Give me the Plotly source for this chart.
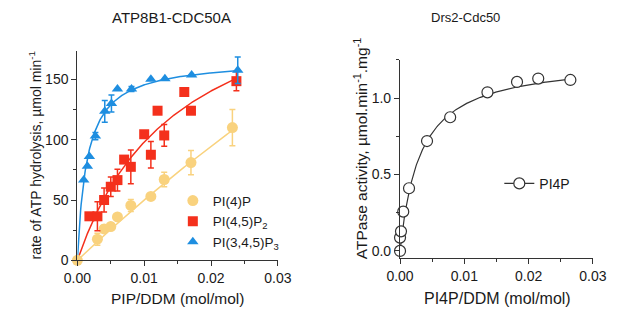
import numpy as np
import plotly.graph_objects as go

# ---------------- data ----------------
# Left panel: ATP8B1-CDC50A
pi4p_x = [0.0, 0.003, 0.004, 0.005, 0.006, 0.008, 0.011, 0.013, 0.017, 0.0232]
pi4p_y = [0.0, 17.5, 26, 28, 36, 45.5, 53, 67, 81, 110]
pi4p_err = [0, 5, 3, 3, 0, 5, 0, 6, 10, 15]

pi45p2_x = [0.0018, 0.003, 0.004, 0.005, 0.006, 0.007, 0.008, 0.010, 0.011, 0.012, 0.013, 0.016, 0.017, 0.0238]
pi45p2_y = [36.5, 36.5, 50, 61, 66.5, 83.5, 77.5, 104.5, 87.5, 124, 103.5, 139.5, 124, 148.5]
pi45p2_err = [0, 12, 10, 8, 9, 0, 14, 0, 11, 0, 9, 0, 0, 8]

pip3_x = [0.00095, 0.0015, 0.0018, 0.0027, 0.0041, 0.0051, 0.006, 0.0081, 0.011, 0.0131, 0.0171, 0.024]
pip3_y = [66.5, 78, 86, 103, 123.5, 130, 142, 142, 150, 150.5, 153.5, 157.5]
pip3_err = [0, 0, 0, 3, 9, 7, 0, 2, 0, 0, 0, 11]

# Michaelis-Menten fit parameters (Vmax, Km) estimated from the drawn curves
fit_pi4p = (865.0, 0.163)
fit_pi45p2 = (247.0, 0.0152)
fit_pip3 = (166.8, 0.00147)

# Right panel: Drs2-Cdc50
drs_x = [0.0, 0.0, 0.00015, 0.0005, 0.0014, 0.0042, 0.0078, 0.0136, 0.0182, 0.0215, 0.0265]
drs_y = [0.0, 0.087, 0.128, 0.257, 0.41, 0.719, 0.875, 1.038, 1.106, 1.128, 1.119]
fit_drs = (1.258, 0.00314)

x_ticks = [0.0, 0.01, 0.02, 0.03]
x_ticklabels = ["0.00", "0.01", "0.02", "0.03"]
left_y_ticks = [0, 50, 100, 150]
right_y_ticks = [0.0, 0.5, 1.0]
right_y_ticklabels = ["0.0", "0.5", "1.0"]

# ---------------- styling ----------------
YEL = "#F9D27E"
RED = "#F4301C"
BLUE = "#1E8EE0"
AX = "#333333"
FONT = "Liberation Sans, Arial, sans-serif"
TXT = "#1a1a1a"
W, H = 617, 311


def mm(params, x):
    v, k = params
    return v * x / (k + x)


fig = go.Figure()

# fit curves (left)
for params, col, xmax in [(fit_pi4p, YEL, pi4p_x[-1]), (fit_pi45p2, RED, pi45p2_x[-1]), (fit_pip3, BLUE, pip3_x[-1])]:
    xx = np.linspace(0, xmax, 300)
    fig.add_trace(go.Scatter(x=xx, y=mm(params, xx), mode="lines",
                             line=dict(color=col, width=1.5), showlegend=False,
                             hoverinfo="skip", xaxis="x", yaxis="y"))

# data points (left)
for xs, ys, es, col, sym, size, name in [
    (pi4p_x, pi4p_y, pi4p_err, YEL, "circle", 11, "PI(4)P"),
    (pi45p2_x, pi45p2_y, pi45p2_err, RED, "square", 10, "PI(4,5)P<sub>2</sub>"),
    (pip3_x, pip3_y, pip3_err, BLUE, "triangle-up", 10, "PI(3,4,5)P<sub>3</sub>"),
]:
    fig.add_trace(go.Scatter(
        x=xs, y=ys, mode="markers", name=name,
        marker=dict(color=col, symbol=sym, size=size, line=dict(width=0)),
        error_y=dict(type="data", array=es, visible=True, color=col, thickness=1.5, width=3),
        cliponaxis=False, xaxis="x", yaxis="y", legend="legend"))

# right panel
xr = np.linspace(0, drs_x[-1], 300)
fig.add_trace(go.Scatter(x=xr, y=mm(fit_drs, xr), mode="lines",
                         line=dict(color=AX, width=1.2), showlegend=False,
                         hoverinfo="skip", xaxis="x2", yaxis="y2"))
fig.add_trace(go.Scatter(
    x=drs_x, y=drs_y, mode="markers", name="PI4P", showlegend=False,
    marker=dict(symbol="circle", size=11, color="white", line=dict(color=AX, width=1.2)),
    cliponaxis=False, xaxis="x2", yaxis="y2"))
# legend entry "-O- PI4P" (legend-only sample)
fig.add_trace(go.Scatter(
    x=[None], y=[None], mode="markers+lines", name="PI4P",
    line=dict(color=AX, width=1.2),
    marker=dict(symbol="circle", size=11, color="white", line=dict(color=AX, width=1.2)),
    xaxis="x2", yaxis="y2", legend="legend2"))

# ---------------- layout ----------------
def px_x(p):
    return p / W


def px_y(p):
    return 1 - p / H


TICK = 14
axis_common = dict(
    showgrid=False, zeroline=False, showline=True, linecolor=AX, linewidth=1.2,
    ticks="outside", ticklen=5, tickwidth=1.2, tickcolor=AX,
    tickfont=dict(family=FONT, size=TICK, color=TXT),
)


def minor(d):
    return dict(dtick=d, tick0=0, ticks="outside", ticklen=3, tickwidth=1.2, tickcolor=AX)


fig.update_layout(
    width=W, height=H, margin=dict(l=0, r=0, t=0, b=0),
    paper_bgcolor="white", plot_bgcolor="white",
    font=dict(family=FONT, color=TXT),
    xaxis=dict(domain=[px_x(58), px_x(268)], range=[0, 0.03], tickvals=x_ticks,
               ticktext=x_ticklabels, anchor="y", minor=minor(0.005), **axis_common),
    yaxis=dict(domain=[px_y(259), px_y(44)], range=[0, 173.6], tickvals=left_y_ticks,
               anchor="x", minor=minor(25), **axis_common),
    xaxis2=dict(domain=[px_x(396), px_x(598)], range=[0, 0.03], tickvals=x_ticks,
                ticktext=x_ticklabels, anchor="y2", minor=minor(0.005), **axis_common),
    yaxis2=dict(domain=[px_y(256.7), px_y(53.3)], range=[-0.047, 1.25], tickvals=right_y_ticks,
                ticktext=right_y_ticklabels, anchor="x2", minor=minor(0.25), **axis_common),
    legend=dict(x=px_x(158), y=px_y(182), xanchor="left", yanchor="top",
                bgcolor="rgba(0,0,0,0)", font=dict(family=FONT, size=13.5, color=TXT),
                tracegroupgap=0),
    legend2=dict(x=px_x(500), y=px_y(164), xanchor="left", yanchor="top",
                 bgcolor="rgba(0,0,0,0)", font=dict(family=FONT, size=14, color=TXT)),
)

ann = [
    dict(text="ATP8B1-CDC50A", x=px_x(157), y=px_y(10), size=15, angle=0),
    dict(text="Drs2-Cdc50", x=px_x(465), y=px_y(10), size=13, angle=0),
    dict(text="PIP/DDM (mol/mol)", x=px_x(163), y=px_y(298), size=15.5, angle=0),
    dict(text="PI4P/DDM (mol/mol)", x=px_x(498), y=px_y(298), size=16, angle=0),
    dict(text="rate of ATP hydrolysis, µmol min<sup>-1</sup>", x=px_x(14), y=px_y(151), size=14, angle=-90),
    dict(text="ATPase activity, µmol.min<sup>-1</sup>.mg<sup>-1</sup>", x=px_x(355), y=px_y(144), size=15.5, angle=-90),
]
for a in ann:
    fig.add_annotation(text=a["text"], x=a["x"], y=a["y"], xref="paper", yref="paper",
                       showarrow=False, textangle=a["angle"], xanchor="center", yanchor="middle",
                       font=dict(family=FONT, size=a["size"], color=TXT))

fig.write_html("out.html")
